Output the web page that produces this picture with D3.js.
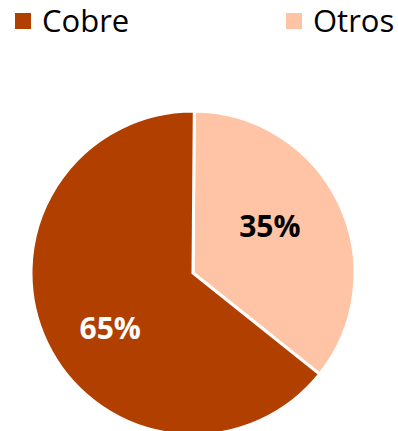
<!DOCTYPE html>
<html><head><meta charset="utf-8">
<script src="https://cdn.jsdelivr.net/npm/d3@7"></script>
<style>html,body{margin:0;padding:0;background:#fff;overflow:hidden}</style>
</head><body>
<svg id="c" width="398" height="431"></svg>
<script>
const categories = ["Cobre", "Otros"];
const values = [64.4, 35.6];
const labels = ["65%", "35%"];
const colors = ["#B14000", "#FFC4A5"];

const svg = d3.select("#c");
const cx = 193, cy = 273, r = 162;
const color = d3.scaleOrdinal().domain(categories).range(colors);

// Otros starts at 12 o'clock clockwise, Cobre fills the rest
const pie = d3.pie().sort(null).value(d => d.v)
  .startAngle(0.008).endAngle(0.008 + 2 * Math.PI);
const data = [
  {c: categories[1], v: values[1], l: labels[1], off: [-8, -6]},
  {c: categories[0], v: values[0], l: labels[0], off: [2, 15]}
];
const arcs = pie(data);
const arc = d3.arc().innerRadius(0).outerRadius(r);
const g = svg.append("g").attr("transform", `translate(${cx},${cy})`);
g.selectAll("path").data(arcs).join("path")
  .attr("d", arc).attr("fill", d => color(d.data.c))
  .attr("stroke", "#fff").attr("stroke-width", 3).attr("stroke-linejoin", "miter");

const lab = d3.arc().innerRadius(r * 0.58).outerRadius(r * 0.58);
g.selectAll("text").data(arcs).join("text")
  .attr("transform", d => { const p = lab.centroid(d); return `translate(${p[0] + d.data.off[0]},${p[1] + d.data.off[1]})`; })
  .attr("text-anchor", "middle").attr("dy", "0.36em")
  .attr("font-family", "'Open Sans', sans-serif").attr("font-weight", 700).attr("font-size", 30)
  .attr("fill", d => d.data.c === "Cobre" ? "#fff" : "#000")
  .text(d => d.data.l);

// legend
const legX = [15, 286];
const leg = svg.selectAll("g.leg").data(categories).join("g").attr("class", "leg")
  .attr("transform", (d, i) => `translate(${legX[i]},0)`);
leg.append("rect").attr("x", 0).attr("y", 13).attr("width", 16).attr("height", 16).attr("fill", d => color(d));
leg.append("text").attr("x", 27).attr("y", 32).attr("font-family", "'Open Sans', sans-serif")
  .attr("font-size", 31).attr("fill", "#000").text(d => d);
</script>
</body></html>
